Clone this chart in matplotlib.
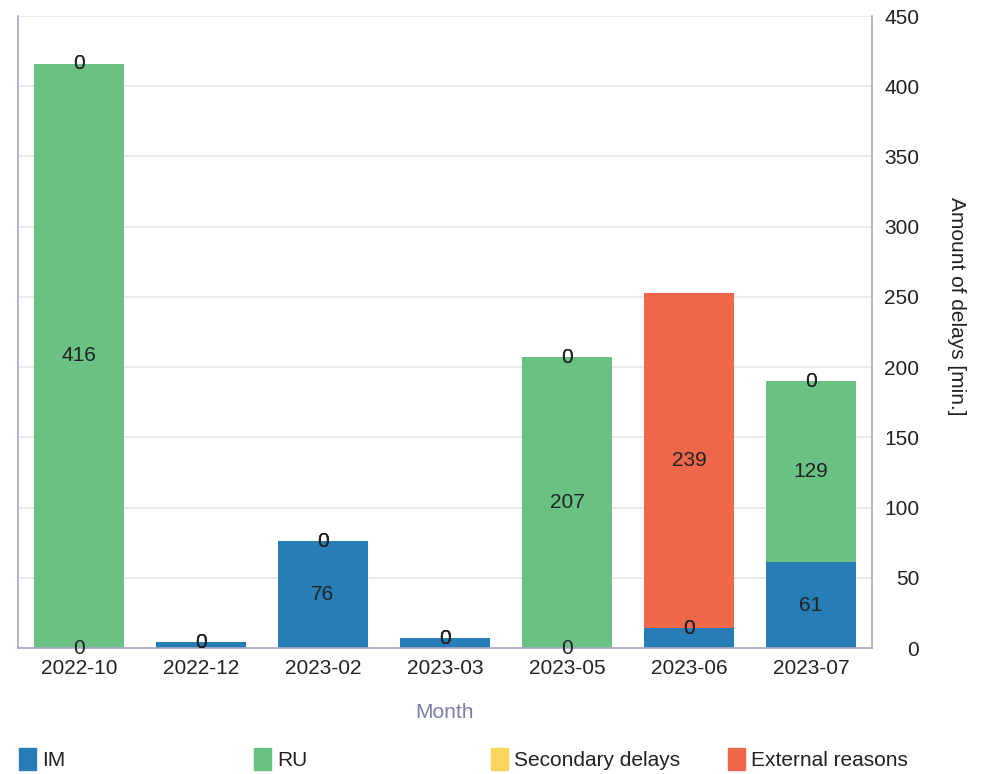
import matplotlib.pyplot as plt
from matplotlib.patches import Patch
import numpy as np

plt.rcParams['font.family'] = ['Liberation Sans', 'DejaVu Sans']

months = ['2022-10', '2022-12', '2023-02', '2023-03', '2023-05', '2023-06', '2023-07']
im = [0, 4, 76, 7, 0, 14, 61]
ru = [416, 0, 0, 0, 207, 0, 129]
secondary = [0, 0, 0, 0, 0, 0, 0]
external = [0, 0, 0, 0, 0, 239, 0]

series = [('IM', im, '#277db6'),
          ('RU', ru, '#69c283'),
          ('Secondary delays', secondary, '#f9d65b'),
          ('External reasons', external, '#ee674a')]

fig = plt.figure(figsize=(9.87, 7.74), dpi=100)
ax = fig.add_axes([18/987, 1 - 648/774, (872-18)/987, (648-16)/774])

x = np.arange(len(months))
bottom = np.zeros(len(months))
for name, vals, col in series:
    vals = np.array(vals, dtype=float)
    bars = ax.bar(x, vals, 0.74, bottom=bottom, color=col, zorder=2)
    # zero segments get "0", small ones get nothing
    labels = ['0' if v == 0 else (f'{v:.0f}' if v >= 20 else '') for v in vals]
    ax.bar_label(bars, labels=labels, label_type='center', fontsize=15, color='#222222')
    bottom += vals

ax.set_xlim(-0.5, len(months) - 0.5)
ax.set_ylim(0, 450)
ax.set_yticks(range(0, 451, 50))
ax.set_xticks(x)
ax.set_xticklabels(months, fontsize=15, color='#222222')

ax.yaxis.tick_right()
ax.yaxis.set_label_position('right')
ax.tick_params(axis='y', length=0, pad=34, labelsize=15, labelcolor='#222222')
for lb in ax.get_yticklabels():
    lb.set_horizontalalignment('right')
ax.tick_params(axis='x', length=0, pad=8)

ax.grid(axis='y', color='#e6e6ec', linewidth=1.2, zorder=0)
ax.set_axisbelow(True)
for s in ['left', 'right', 'bottom']:
    ax.spines[s].set_color('#a6a8c8')
    ax.spines[s].set_linewidth(1.2)
ax.spines['top'].set_visible(False)

ax.set_ylabel('Amount of delays [min.]', fontsize=15, color='#222222', rotation=-90)
ax.yaxis.set_label_coords(1.11, 0.54)
ax.set_xlabel('Month', fontsize=15, color='#7b7fa6', labelpad=18)

lx = [18, 253, 490, 727]
for (name, vals, col), px in zip(series, lx):
    fig.legend(handles=[Patch(color=col)], labels=[name], loc='center left',
               bbox_to_anchor=(px/987 - 0.018, 1 - 759/774), frameon=False,
               fontsize=15, handlelength=0.8, handleheight=1.3, handletextpad=0.3,
               labelcolor='#222222')

fig.savefig('out.png', dpi=100)
